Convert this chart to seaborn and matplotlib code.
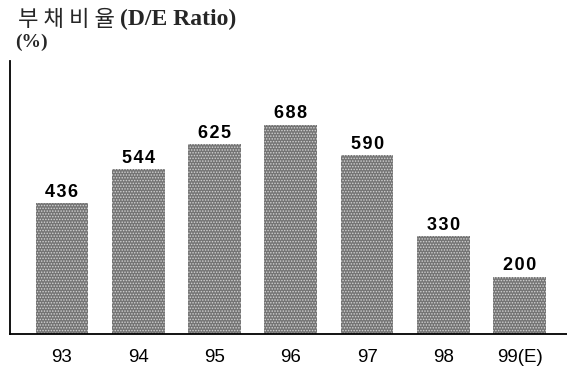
import matplotlib
matplotlib.use("Agg")
import matplotlib.pyplot as plt
import seaborn as sns
import pandas as pd

# Debt-to-equity ratio by year (%)
years = ["93", "94", "95", "96", "97", "98", "99(E)"]
ratios = [436, 544, 625, 688, 590, 330, 200]

sns.set_theme(style="white")
plt.rcParams["font.family"] = ["Liberation Sans", "Noto Sans CJK KR", "DejaVu Sans"]
plt.rcParams["hatch.linewidth"] = 0.7

df = pd.DataFrame({"year": years, "ratio": ratios})

fig = plt.figure(figsize=(5.67, 3.71), dpi=100)
ax = fig.add_axes([10 / 567, 1 - 334 / 371, 557 / 567, (334 - 61) / 371])

sns.barplot(data=df, x="year", y="ratio", color="#747474", width=0.69,
            saturation=1, ax=ax)
for p in ax.patches:
    p.set_hatch("......")
    p.set_edgecolor("#d2d2d2")
    p.set_linewidth(0)

# value labels with a little extra letter spacing
for i, v in enumerate(ratios):
    ax.text(i, v + 8, "\u200a".join(str(v)), ha="center", va="bottom",
            fontsize=13, fontweight="bold", color="black")

ax.set_xlim(-0.68, 6.62)
ax.set_ylim(16, 892)
ax.set_yticks([])
ax.set_xlabel("")
ax.set_ylabel("")
ax.tick_params(axis="x", length=0, pad=11, labelsize=13.5, colors="black")
for s in ["top", "right"]:
    ax.spines[s].set_visible(False)
for s in ["left", "bottom"]:
    ax.spines[s].set_color("black")
    ax.spines[s].set_linewidth(1.3)

serif = ["Liberation Serif", "DejaVu Serif"]
fig.text(18 / 567, 1 - 19 / 371, "부 채 비 율", fontsize=16,
         family=["Noto Sans CJK KR", "DejaVu Sans"], va="center", ha="left")
fig.text(120 / 567, 1 - 19 / 371, "(D/E Ratio)", fontsize=17,
         fontweight="bold", family=serif, va="center", ha="left")
fig.text(15 / 567, 1 - 42 / 371, "(%)", fontsize=14, fontweight="bold",
         family=serif, va="center", ha="left")

fig.savefig("out.png", dpi=100)
